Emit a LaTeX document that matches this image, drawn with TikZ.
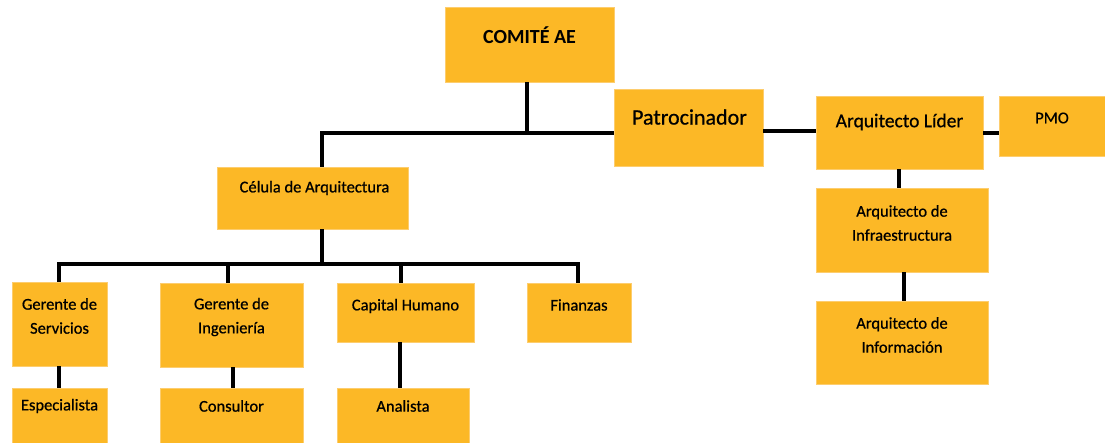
\documentclass[tikz,border=0pt]{standalone}
\usepackage{fontspec}
\setmainfont{Carlito}
\newfontfamily\semib{Carlito}[FakeBold=0.7]
\definecolor{boxfill}{RGB}{252,184,38}
\definecolor{boxedge}{RGB}{253,205,110}
\tikzset{
  box/.style={rectangle, fill=boxfill, draw=boxedge, line width=0.8pt, inner sep=0pt},
  txt/.style={inner sep=0pt, align=center, font=\semib\fontsize{16.5}{24}\selectfont},
  link/.style={draw=black, line width=3.6pt, line join=miter}
}
\begin{document}
\begin{tikzpicture}[x=1pt,y=-1pt]
\useasboundingbox (0,0) rectangle (1105,443);
% boxes
\node[box, minimum width=169pt, minimum height=75pt] (comite) at (529.5,44.5) {};
\node[box, minimum width=149pt, minimum height=77pt] (patro) at (688.5,127.5) {};
\node[box, minimum width=167pt, minimum height=73pt] (lider) at (899.5,132.5) {};
\node[box, minimum width=106pt, minimum height=60pt] (pmo) at (1052,126) {};
\node[box, minimum width=191pt, minimum height=62pt] (celula) at (312.5,198) {};
\node[box, minimum width=172pt, minimum height=84pt] (infra) at (902,230) {};
\node[box, minimum width=172pt, minimum height=83pt] (info) at (902,342.5) {};
\node[box, minimum width=95pt, minimum height=84pt] (gserv) at (59.5,324) {};
\node[box, minimum width=143pt, minimum height=84pt] (ging) at (231.5,325) {};
\node[box, minimum width=137pt, minimum height=59pt] (capital) at (405.5,312.5) {};
\node[box, minimum width=104pt, minimum height=59pt] (fin) at (579,312.5) {};
\node[box, minimum width=95pt, minimum height=55pt] (espec) at (59.5,415.5) {};
\node[box, minimum width=143pt, minimum height=55pt] (consul) at (231.5,415.5) {};
\node[box, minimum width=132pt, minimum height=55pt] (anal) at (403,415.5) {};
% texts
\node[txt, font=\fontsize{20}{24}\selectfont\bfseries] (tcomite) at (529.5,35) {COMITÉ AE};
\node[txt, font=\semib\fontsize{22}{24}\selectfont] (tpatro) at (689.5,117) {Patrocinador};
\node[txt, font=\semib\fontsize{19.5}{24}\selectfont] (tlider) at (899.5,122) {Arquitecto Líder};
\node[txt] (tpmo) at (1052,118) {PMO};
\node[txt] (tcelula) at (314.5,188) {Célula de Arquitectura};
\node[txt] (tinfra) at (902,223) {Arquitecto de\\Infraestructura};
\node[txt] (tinfo) at (902,335) {Arquitecto de\\Información};
\node[txt] (tgserv) at (59.5,316) {Gerente de\\Servicios};
\node[txt] (tging) at (231.5,317) {Gerente de\\Ingeniería};
\node[txt] (tcapital) at (405.5,306) {Capital Humano};
\node[txt] (tfin) at (579,305) {Finanzas};
\node[txt] (tespec) at (59.5,406) {Especialista};
\node[txt] (tconsul) at (231.5,406) {Consultor};
\node[txt] (tanal) at (403,406) {Analista};
% junction coordinates
\coordinate (j1) at (527,133);
\coordinate (j2) at (322,133);
\coordinate (j3) at (322,264);
\coordinate (hl) at (59,264);
\coordinate (hr) at (578,264);
% connectors
\draw[link] (comite.south -| j1) -- (j1);
\draw[link] (celula.north -| j2) -- (j2) -- (patro.west |- j2);
\draw[link] (patro.east |- 0,131) -- (lider.west |- 0,131);
\draw[link] (lider.east |- 0,133) -- (pmo.west |- 0,133);
\draw[link] (lider.south -| 899,0) -- (infra.north -| 899,0);
\draw[link] (infra.south -| 904,0) -- (info.north -| 904,0);
\draw[link] (celula.south -| j3) -- (j3);
\draw[link] (gserv.north -| hl) -- (hl) -- (hr) -- (fin.north -| hr);
\draw[link] (ging.north -| 228,0) -- (228,264);
\draw[link] (capital.north -| 401,0) -- (401,264);
\draw[link] (gserv.south -| 59,0) -- (espec.north -| 59,0);
\draw[link] (ging.south -| 233,0) -- (consul.north -| 233,0);
\draw[link] (capital.south -| 400,0) -- (anal.north -| 400,0);
\end{tikzpicture}
\end{document}
